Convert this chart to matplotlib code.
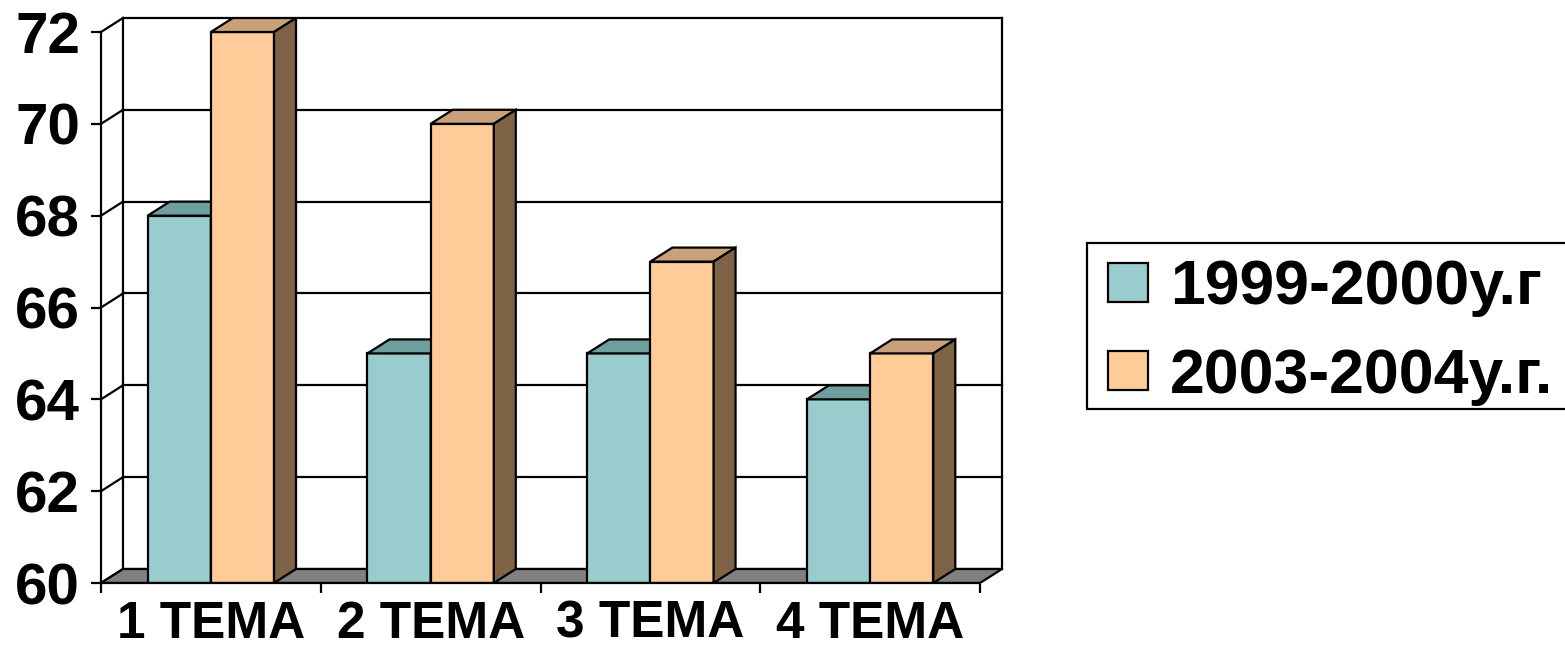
import matplotlib
matplotlib.use("Agg")
import matplotlib.pyplot as plt
from matplotlib.patches import Polygon, Patch, Rectangle

plt.rcParams["font.family"] = ["Liberation Sans", "DejaVu Sans"]
plt.rcParams["font.weight"] = "bold"

categories = ["1 ТЕМА", "2 ТЕМА", "3 ТЕМА", "4 ТЕМА"]
series_labels = ["1999-2000у.г", "2003-2004у.г."]
values_1999 = [68, 65, 65, 64]
values_2003 = [72, 70, 67, 65]
y_ticks = [60, 62, 64, 66, 68, 70, 72]

# face colours: front, top, side
FACES = [
    ("#99CCCC", "#6E9E9E", "#4F7A7A"),
    ("#FFCC99", "#C8A07A", "#7F6347"),
]
BASE = 60
DX, DY = 0.1, 0.305      # 3D depth offset (x in category units, y in value units)
BAR_W = 0.2875
LW = 1.6
W, H = 1565, 651

fig = plt.figure(figsize=(W / 100, H / 100), dpi=100)
fig.patch.set_facecolor("white")
ax = fig.add_axes([101 / W, 68 / H, 901 / W, 565 / H])
ax.set_xlim(0, len(categories) + DX)
ax.set_ylim(BASE, max(y_ticks) + DY)
ax.set_facecolor("none")

n = len(categories)
# back wall gridlines and left wall diagonals
for v in y_ticks:
    ax.plot([DX, n + DX], [v + DY, v + DY], color="black", lw=LW, zorder=1, clip_on=False)
    ax.plot([0, DX], [v, v + DY], color="black", lw=LW, zorder=1, clip_on=False)
for xe in (DX, n + DX):
    ax.plot([xe, xe], [BASE + DY, max(y_ticks) + DY], color="black", lw=LW, zorder=1, clip_on=False)

# floor
ax.add_patch(Polygon([(0, BASE), (n, BASE), (n + DX, BASE + DY), (DX, BASE + DY)],
                     closed=True, facecolor="#808080", edgecolor="black", lw=LW, zorder=2))

# bars
for j, vals in enumerate([values_1999, values_2003]):
    front, top, side = FACES[j]
    lefts = [i + 0.5 - BAR_W + j * BAR_W for i in range(n)]
    z = 3 + j
    ax.bar(lefts, [v - BASE for v in vals], bottom=BASE, width=BAR_W, align="edge",
           color=front, edgecolor="black", lw=LW, zorder=z)
    for x0, v in zip(lefts, vals):
        x1 = x0 + BAR_W
        ax.add_patch(Polygon([(x0, v), (x1, v), (x1 + DX, v + DY), (x0 + DX, v + DY)],
                             closed=True, facecolor=top, edgecolor="black", lw=LW, zorder=z))
        ax.add_patch(Polygon([(x1, BASE), (x1, v), (x1 + DX, v + DY), (x1 + DX, BASE + DY)],
                             closed=True, facecolor=side, edgecolor="black", lw=LW, zorder=z))

# axes
for s in ("top", "right"):
    ax.spines[s].set_visible(False)
ax.spines["left"].set_bounds(BASE, max(y_ticks))
ax.spines["bottom"].set_bounds(0, n)
for s in ("left", "bottom"):
    ax.spines[s].set_linewidth(LW)
    ax.spines[s].set_zorder(6)

ax.set_yticks(y_ticks)
ax.set_yticklabels([str(v) for v in y_ticks], fontsize=42, fontweight="bold")
ax.tick_params(axis="y", direction="out", length=7, width=LW, pad=8)

ax.set_xticks(range(n + 1))
ax.set_xticklabels([])
ax.set_xticks([i + 0.5 for i in range(n)], minor=True)
ax.set_xticklabels(categories, minor=True, fontsize=37, fontweight="bold")
ax.tick_params(axis="x", which="major", direction="out", length=7, width=LW)
ax.tick_params(axis="x", which="minor", length=0, pad=12)

# legend: frame drawn separately, runs past the right edge as in the source
fig.add_artist(Rectangle((1087 / W, 1 - 409 / H), 520 / W, 166 / H, transform=fig.transFigure,
                         facecolor="white", edgecolor="black", lw=LW, zorder=0))
handles = [Patch(facecolor=FACES[j][0], edgecolor="black", lw=LW, label=series_labels[j])
           for j in range(2)]
fig.legend(handles=handles, loc="center left",
           bbox_to_anchor=(1108 / W, 1 - 332 / H), bbox_transform=fig.transFigure,
           frameon=False, prop={"size": 45, "weight": "bold"},
           handlelength=0.64, handleheight=0.59, handletextpad=0.35,
           borderpad=0, labelspacing=0.47, borderaxespad=0)

fig.savefig("out.png", dpi=100)
